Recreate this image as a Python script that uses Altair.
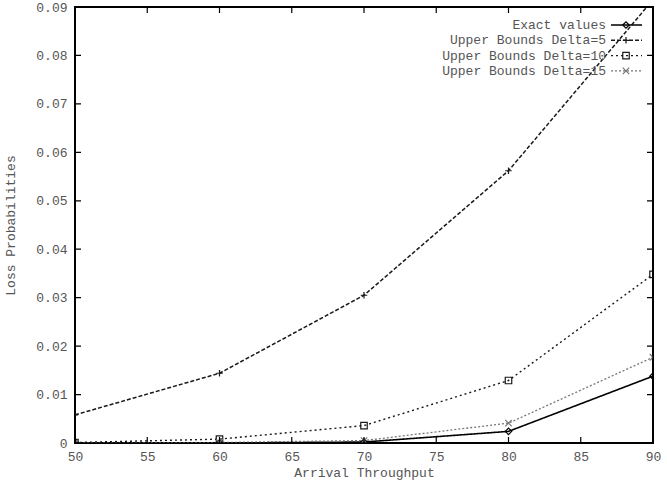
import altair as alt
import pandas as pd

# ---- data ----
x_vals = [50, 60, 70, 80, 90]
exact = [0.0, 0.0, 0.0002, 0.0024, 0.0138]
delta5 = [0.0058, 0.0144, 0.0305, 0.0562, 0.0915]
delta10 = [0.0001, 0.0008, 0.0036, 0.0129, 0.0348]
delta15 = [0.0, 0.0001, 0.0005, 0.0041, 0.0177]
series_names = ["Exact values", "Upper Bounds Delta=5",
                "Upper Bounds Delta=10", "Upper Bounds Delta=15"]
x_ticks = [50, 55, 60, 65, 70, 75, 80, 85, 90]
y_ticks = [0, 0.01, 0.02, 0.03, 0.04, 0.05, 0.06, 0.07, 0.08, 0.09]

# ---- styles (two extra style keys for the frame and the tick marks) ----
style_keys = series_names + ["axis", "frame"]
colors = ["#000000", "#1a1a1a", "#1a1a1a", "#777777", "#000000", "#000000"]
dashes = [[1, 0], [4, 2], [2, 3], [2, 2], [1, 0], [1, 0]]
widths = [1.6, 1.1, 1.2, 1.1, 1.2, 2.2]
shapes = ["diamond", "M-1,0L1,0M0,-1L0,1", "square", "M-1,-1L1,1M-1,1L1,-1", "circle", "circle"]
FONT = "Liberation Mono"
FS = 13
TXT = "#555555"
W, H = 578, 436

rows = []
for name, vals in zip(series_names, [exact, delta5, delta10, delta15]):
    for xv, yv in zip(x_vals, vals):
        rows.append({"x": xv, "y": yv, "series": name})
df = pd.DataFrame(rows)

color_enc = alt.Color("series:N", scale=alt.Scale(domain=style_keys, range=colors), legend=None)
dash_enc = alt.StrokeDash("series:N", scale=alt.Scale(domain=style_keys, range=dashes), legend=None)
width_enc = alt.StrokeWidth("series:N", scale=alt.Scale(domain=style_keys, range=widths), legend=None)
shape_enc = alt.Shape("series:N", scale=alt.Scale(domain=style_keys, range=shapes), legend=None)
sty = dict(color=color_enc, strokeDash=dash_enc, strokeWidth=width_enc)

x_axis = alt.Axis(values=x_ticks, title="Arrival Throughput", labelPadding=7, titlePadding=3,
                  labelFlush=False)
y_axis = alt.Axis(values=y_ticks, title="Loss Probabilities", format=".2~f",
                  labelPadding=8, titlePadding=18, labelFlush=False)


def X(field):
    return alt.X(field, scale=alt.Scale(domain=[50, 90], nice=False), axis=x_axis)


def Y(field):
    return alt.Y(field, scale=alt.Scale(domain=[0, 0.09], nice=False), axis=y_axis)


lines = alt.Chart(df).mark_line(clip=True).encode(
    x=X("x:Q"), y=Y("y:Q"), detail="series:N", **sty)
points = alt.Chart(df).mark_point(clip=True, filled=False, size=42, strokeWidth=1.2, opacity=1).encode(
    x=X("x:Q"), y=Y("y:Q"), color=color_enc, shape=shape_enc)

# inward tick marks on all four sides
xt = pd.DataFrame({"t": x_ticks, "series": ["axis"] * len(x_ticks)})
yt = pd.DataFrame({"v": y_ticks, "series": ["axis"] * len(y_ticks)})
xt_bottom = alt.Chart(xt).mark_rule().encode(x=X("t:Q"), y=alt.value(H), y2=alt.value(H - 6), **sty)
xt_top = alt.Chart(xt).mark_rule().encode(x=X("t:Q"), y=alt.value(0), y2=alt.value(6), **sty)
yt_left = alt.Chart(yt).mark_rule().encode(y=Y("v:Q"), x=alt.value(0), x2=alt.value(6), **sty)
yt_right = alt.Chart(yt).mark_rule().encode(y=Y("v:Q"), x=alt.value(W - 6), x2=alt.value(W), **sty)

# plot frame as four rules
fr = pd.DataFrame({"series": ["frame"]})
frame_layers = [
    alt.Chart(fr).mark_rule().encode(x=alt.value(0), x2=alt.value(W), y=alt.value(0), **sty),
    alt.Chart(fr).mark_rule().encode(x=alt.value(0), x2=alt.value(W), y=alt.value(H), **sty),
    alt.Chart(fr).mark_rule().encode(x=alt.value(0), y=alt.value(0), y2=alt.value(H), **sty),
    alt.Chart(fr).mark_rule().encode(x=alt.value(W), y=alt.value(0), y2=alt.value(H), **sty),
]

# ---- gnuplot-style key: text, then sample line with marker ----
leg = pd.DataFrame({"series": series_names})
key_layers = []
for i, name in enumerate(series_names):
    base = alt.Chart(leg).transform_filter(alt.datum.series == name)
    ky = alt.value(18 + 15.3 * i)
    key_layers.append(base.mark_rule().encode(x=alt.value(536), x2=alt.value(567), y=ky, **sty))
    key_layers.append(base.mark_point(filled=False, size=42, strokeWidth=1.2, opacity=1).encode(
        x=alt.value(551), y=ky, color=color_enc, shape=shape_enc))
    key_layers.append(base.mark_text(align="right", baseline="middle", font=FONT, fontSize=FS,
                                     color=TXT).encode(x=alt.value(531), y=ky, text="series:N"))

chart = alt.layer(lines, points, xt_bottom, xt_top, yt_left, yt_right,
                  *key_layers, *frame_layers).properties(
    width=W, height=H,
    background="white",
    autosize=alt.AutoSizeParams(type="none"),
    padding={"left": 75, "top": 7, "right": 14, "bottom": 37},
).configure_view(stroke="black", strokeWidth=2).configure_axis(
    domain=False, ticks=False, grid=False,
    labelFont=FONT, labelFontSize=FS, labelColor=TXT,
    titleFont=FONT, titleFontSize=FS, titleColor=TXT, titleFontWeight="normal",
)

chart.save("out.html", embed_options={"renderer": "svg", "actions": False})
